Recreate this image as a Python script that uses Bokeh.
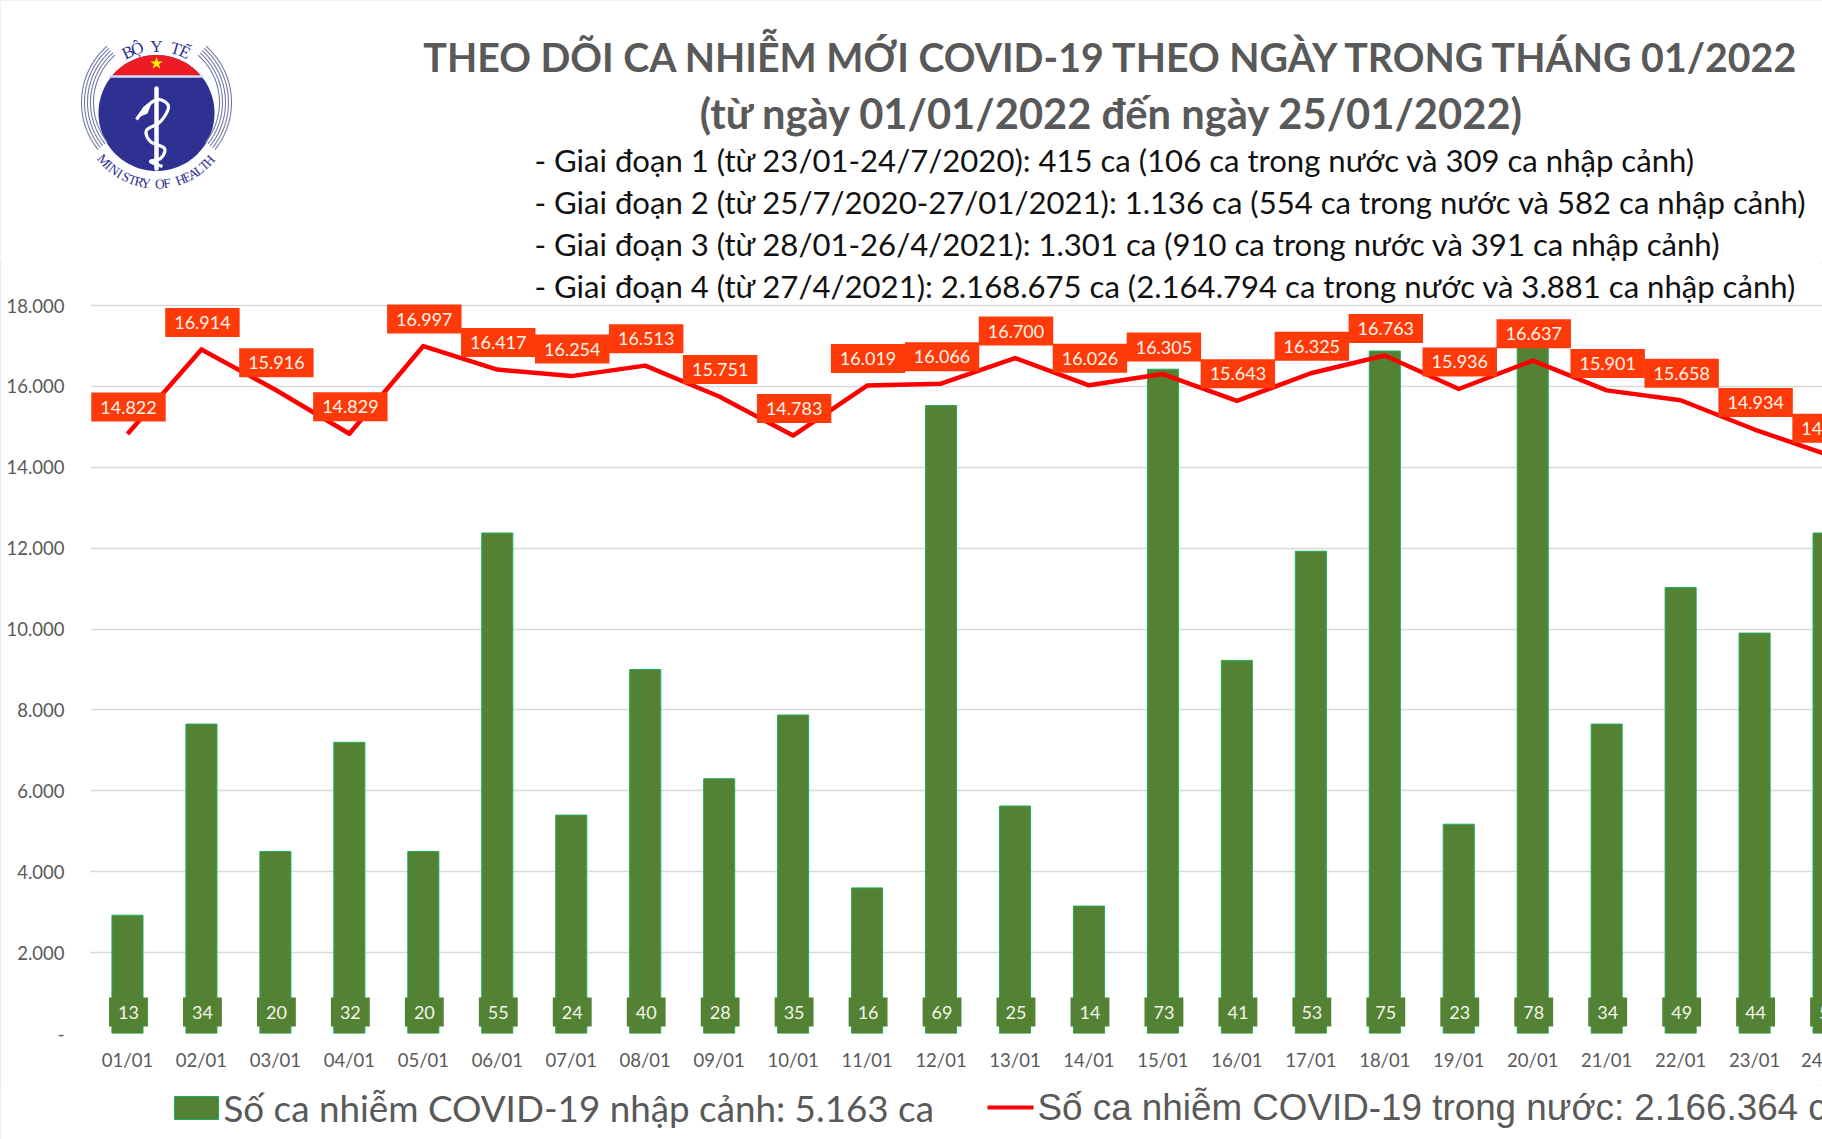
import numpy as np
from bokeh.core.properties import value
from bokeh.embed import file_html
from bokeh.layouts import column
from bokeh.models import ColumnDataSource, FixedTicker, Range1d
from bokeh.plotting import figure
from bokeh.resources import INLINE

days = ["01/01","02/01","03/01","04/01","05/01","06/01","07/01","08/01","09/01","10/01","11/01","12/01",
        "13/01","14/01","15/01","16/01","17/01","18/01","19/01","20/01","21/01","22/01","23/01","24/01"]
imported = [13,34,20,32,20,55,24,40,28,35,16,69,25,14,73,41,53,75,23,78,34,49,44,55]
domestic = [14822,16914,15916,14829,16997,16417,16254,16513,15751,14783,16019,16066,
            16700,16026,16305,15643,16325,16763,15936,16637,15901,15658,14934,14298]
left_ticks = [0,2000,4000,6000,8000,10000,12000,14000,16000,18000]
left_labels = ["-","2.000","4.000","6.000","8.000","10.000","12.000","14.000","16.000","18.000"]
title1 = "THEO DÕI CA NHIỄM MỚI COVID-19 THEO NGÀY TRONG THÁNG 01/2022"
title2 = "(từ ngày 01/01/2022 đến ngày 25/01/2022)"
notes = ["- Giai đoạn 1 (từ 23/01-24/7/2020): 415 ca (106 ca trong nước và 309 ca nhập cảnh)",
         "- Giai đoạn 2 (từ 25/7/2020-27/01/2021): 1.136 ca (554 ca trong nước và 582 ca nhập cảnh)",
         "- Giai đoạn 3 (từ 28/01-26/4/2021): 1.301 ca (910 ca trong nước và 391 ca nhập cảnh)",
         "- Giai đoạn 4 (từ 27/4/2021): 2.168.675 ca (2.164.794 ca trong nước và 3.881 ca nhập cảnh)"]
legend_bar = "Số ca nhiễm COVID-19 nhập cảnh: 5.163 ca"
legend_line = "Số ca nhiễm COVID-19 trong nước: 2.166.364 ca"

W = 1822
X0, Y0 = 0, 0            # top-left page pixel of the figures
HEAD_END, FRAME_BOTTOM, CHART_END, PAGE_END = 262, 1033, 1085, 1139
GRID_TOP = 305
FL = 90; step = 73.96
GREY = "#595959"; GREEN = "#548235"; RED = "#FF0000"; ORANGE = "#FF3A0A"; INK = "#111111"

def panel(y_start, y_end):
    f = figure(width=W, height=y_end - y_start, output_backend="svg", toolbar_location=None,
               x_range=Range1d(X0, X0 + W), y_range=Range1d(y_end, y_start), min_border=0,
               x_axis_location=None, y_axis_location=None, outline_line_color=None, frame_align=False)
    f.grid.visible = False
    return f

def put(f, x, y, text, size, color, font="Lato", align="left", style="normal", angle=0.0):
    f.text(x=[x], y=[y], text=[text], text_font=value(font), text_font_size=value(size), text_color=color,
           text_align=align, text_baseline="middle", text_font_style=style, angle=angle)

# ---------------- header ----------------
head = panel(Y0, HEAD_END)
put(head, 1112.5, 56, title1, "39.3px", GREY, align="center", style="bold")
put(head, 1112, 112, title2, "41.7px", GREY, align="center", style="bold")
for yy, n in zip((159, 201, 243), notes[:3]):
    put(head, 534, yy, n, "31.1px", INK)

# logo
cx, cy, r = 156, 112.5, 58
t = np.linspace(0, 2 * np.pi, 160)
head.patch(cx + r * np.cos(t), cy + r * np.sin(t), fill_color="#2E3192", line_color=None)
a0 = np.arcsin((cy - 75) / r)
t = np.linspace(np.pi + a0, 2 * np.pi - a0, 60)
head.patch(cx + r * np.cos(t), cy + r * np.sin(t), fill_color="#ED1C24", line_color=None)
head.line([cx - 47, cx + 47], [76, 76], line_color="#dcdcf0", line_width=2.5)
a = -np.pi / 2 + np.arange(10) * np.pi / 5
rr = np.where(np.arange(10) % 2 == 0, 6.5, 2.6)
head.patch(cx + rr * np.cos(a), 63 + rr * np.sin(a), fill_color="#FFF200", line_color=None)
for R in (63, 66, 69, 72, 75):
    for sgn in (-1, 1):
        t = np.linspace(-0.85, 0.68, 50)
        head.line(cx + sgn * R * np.cos(t), 102 + R * np.sin(t), line_color="#7478a8", line_width=1.1)
head.line([cx, cx], [88, 168], line_color="white", line_width=4.5, line_cap="round")

def spline(pts, n=14):
    P = np.asarray(pts, float)
    P = np.vstack([P[0], P, P[-1]])
    out = []
    for i in range(1, len(P) - 2):
        for u in np.linspace(0, 1, n):
            out.append(0.5 * (2 * P[i] + (P[i + 1] - P[i - 1]) * u
                              + (2 * P[i - 1] - 5 * P[i] + 4 * P[i + 1] - P[i + 2]) * u ** 2
                              + (3 * P[i] - P[i - 1] - 3 * P[i + 1] + P[i + 2]) * u ** 3))
    return np.array(out)

snake = spline([(136, 119), (146, 106), (158, 99), (168, 106), (160, 121), (146, 130),
                (150, 141), (164, 148), (160, 158), (150, 161), (162, 166)])
head.line(snake[:, 0], snake[:, 1], line_color="white", line_width=3.2, line_join="round")
head.patch([136, 143, 151, 147, 140], [119, 106, 103, 113, 116], fill_color="white", line_color=None)

def arc_text(text, center_deg, half_span, radius, size, direction, font="Liberation Serif"):
    n = len(text)
    for i, ch in enumerate(text):
        th = np.radians(center_deg + direction * (2 * i / (n - 1) - 1) * half_span)
        ang = float(-th if direction > 0 else np.pi - th)
        put(head, cx + radius * np.sin(th), cy - radius * np.cos(th), ch, size, "#2E3192",
            font=font, align="center", angle=ang)

arc_text("BỘ Y TẾ", 0, 25, 67, "17px", 1)
arc_text("MINISTRY OF HEALTH", 180, 48, 71, "13.5px", -1)

# ---------------- chart ----------------
frame_px = FRAME_BOTTOM - HEAD_END
scale = frame_px / (FRAME_BOTTOM - GRID_TOP)
x_end = 0.5 + (X0 + W - FL) / step
p = figure(width=W, height=CHART_END - HEAD_END, output_backend="svg", toolbar_location=None,
           x_range=Range1d(0.5, x_end), y_range=Range1d(0, 18000 * scale),
           min_border_left=FL - X0, min_border_right=0, min_border_top=0,
           min_border_bottom=CHART_END - FRAME_BOTTOM, outline_line_color=None, frame_align=False)
p.extra_y_ranges = {"imp": Range1d(0, 80 * scale)}
p.xgrid.visible = False
p.ygrid.grid_line_color = "#d9d9d9"; p.ygrid.grid_line_width = 1.5
p.ygrid.ticker = FixedTicker(ticks=left_ticks)

ax = p.yaxis[0]
ax.ticker = FixedTicker(ticks=left_ticks)
ax.major_label_overrides = dict(zip(left_ticks, left_labels))
ax.major_tick_line_color = None; ax.minor_tick_line_color = None; ax.axis_line_color = None
ax.major_label_text_font = "Lato"; ax.major_label_text_font_size = "18.5px"; ax.major_label_text_color = GREY
ax.major_label_standoff = 20

xs = list(range(1, len(days) + 1))
# the last day's label is cropped by the picture's edge to its first two digits
tick_pos = xs[:-1] + [round(0.5 + (1813 - FL) / step, 2)]
tick_text = days[:-1] + [days[-1][:2]]
xa = p.xaxis[0]
xa.ticker = FixedTicker(ticks=tick_pos)
xa.major_label_overrides = dict(zip(tick_pos, tick_text))
xa.major_tick_line_color = None; xa.minor_tick_line_color = None; xa.axis_line_color = None
xa.major_label_text_font = "Lato"; xa.major_label_text_font_size = "18.5px"; xa.major_label_text_color = GREY
xa.major_label_standoff = 9

src = ColumnDataSource(dict(x=xs, imp=imported, dom=domestic,
                            imp_t=[str(v) for v in imported],
                            dom_t=[f"{v:,}".replace(",", ".") for v in domestic],
                            zero=[0] * len(xs)))
p.vbar(x="x", top="imp", width=0.42, source=src, y_range_name="imp", fill_color=GREEN,
       line_color="#1fae5b", line_width=1)
p.line(x="x", y="dom", source=src, line_color=RED, line_width=4.5, line_join="round")
p.text(x="x", y="zero", text="imp_t", source=src, y_range_name="imp", x_offset=1, y_offset=-21.5,
       text_align="center", text_baseline="middle", text_color="#f4f4ea", text_font=value("Lato"),
       text_font_size="18px", background_fill_color=GREEN, padding=(9, 8))
p.text(x="x", y="dom", text="dom_t", source=src, x_offset=1, y_offset=-27,
       text_align="center", text_baseline="middle", text_color="#fff6ea", text_font=value("Lato"),
       text_font_size="18px", background_fill_color=ORANGE, padding=(9, 8))
# last note line sits just above the 18.000 grid line, inside this frame
put(p, 0.5 + (534 - FL) / step, 18000 * (FRAME_BOTTOM - 285) / (FRAME_BOTTOM - GRID_TOP), notes[3], "31.1px", INK)

# ---------------- legend ----------------
foot = panel(CHART_END, PAGE_END)
foot.quad(left=[174], right=[218], top=[1096], bottom=[1119], fill_color=GREEN, line_color="#1fae5b", line_width=1)
put(foot, 223, 1107, legend_bar, "36.8px", GREY)
foot.line([987, 1033], [1107, 1107], line_color=RED, line_width=4)
put(foot, 1037, 1107, legend_line, "36.8px", GREY, font="Liberation Sans")

page = column(head, p, foot, spacing=0, styles={"outline": "2px solid #e2e2e2", "outline-offset": "-2px"})
open("out.html", "w").write(file_html(page, INLINE))
